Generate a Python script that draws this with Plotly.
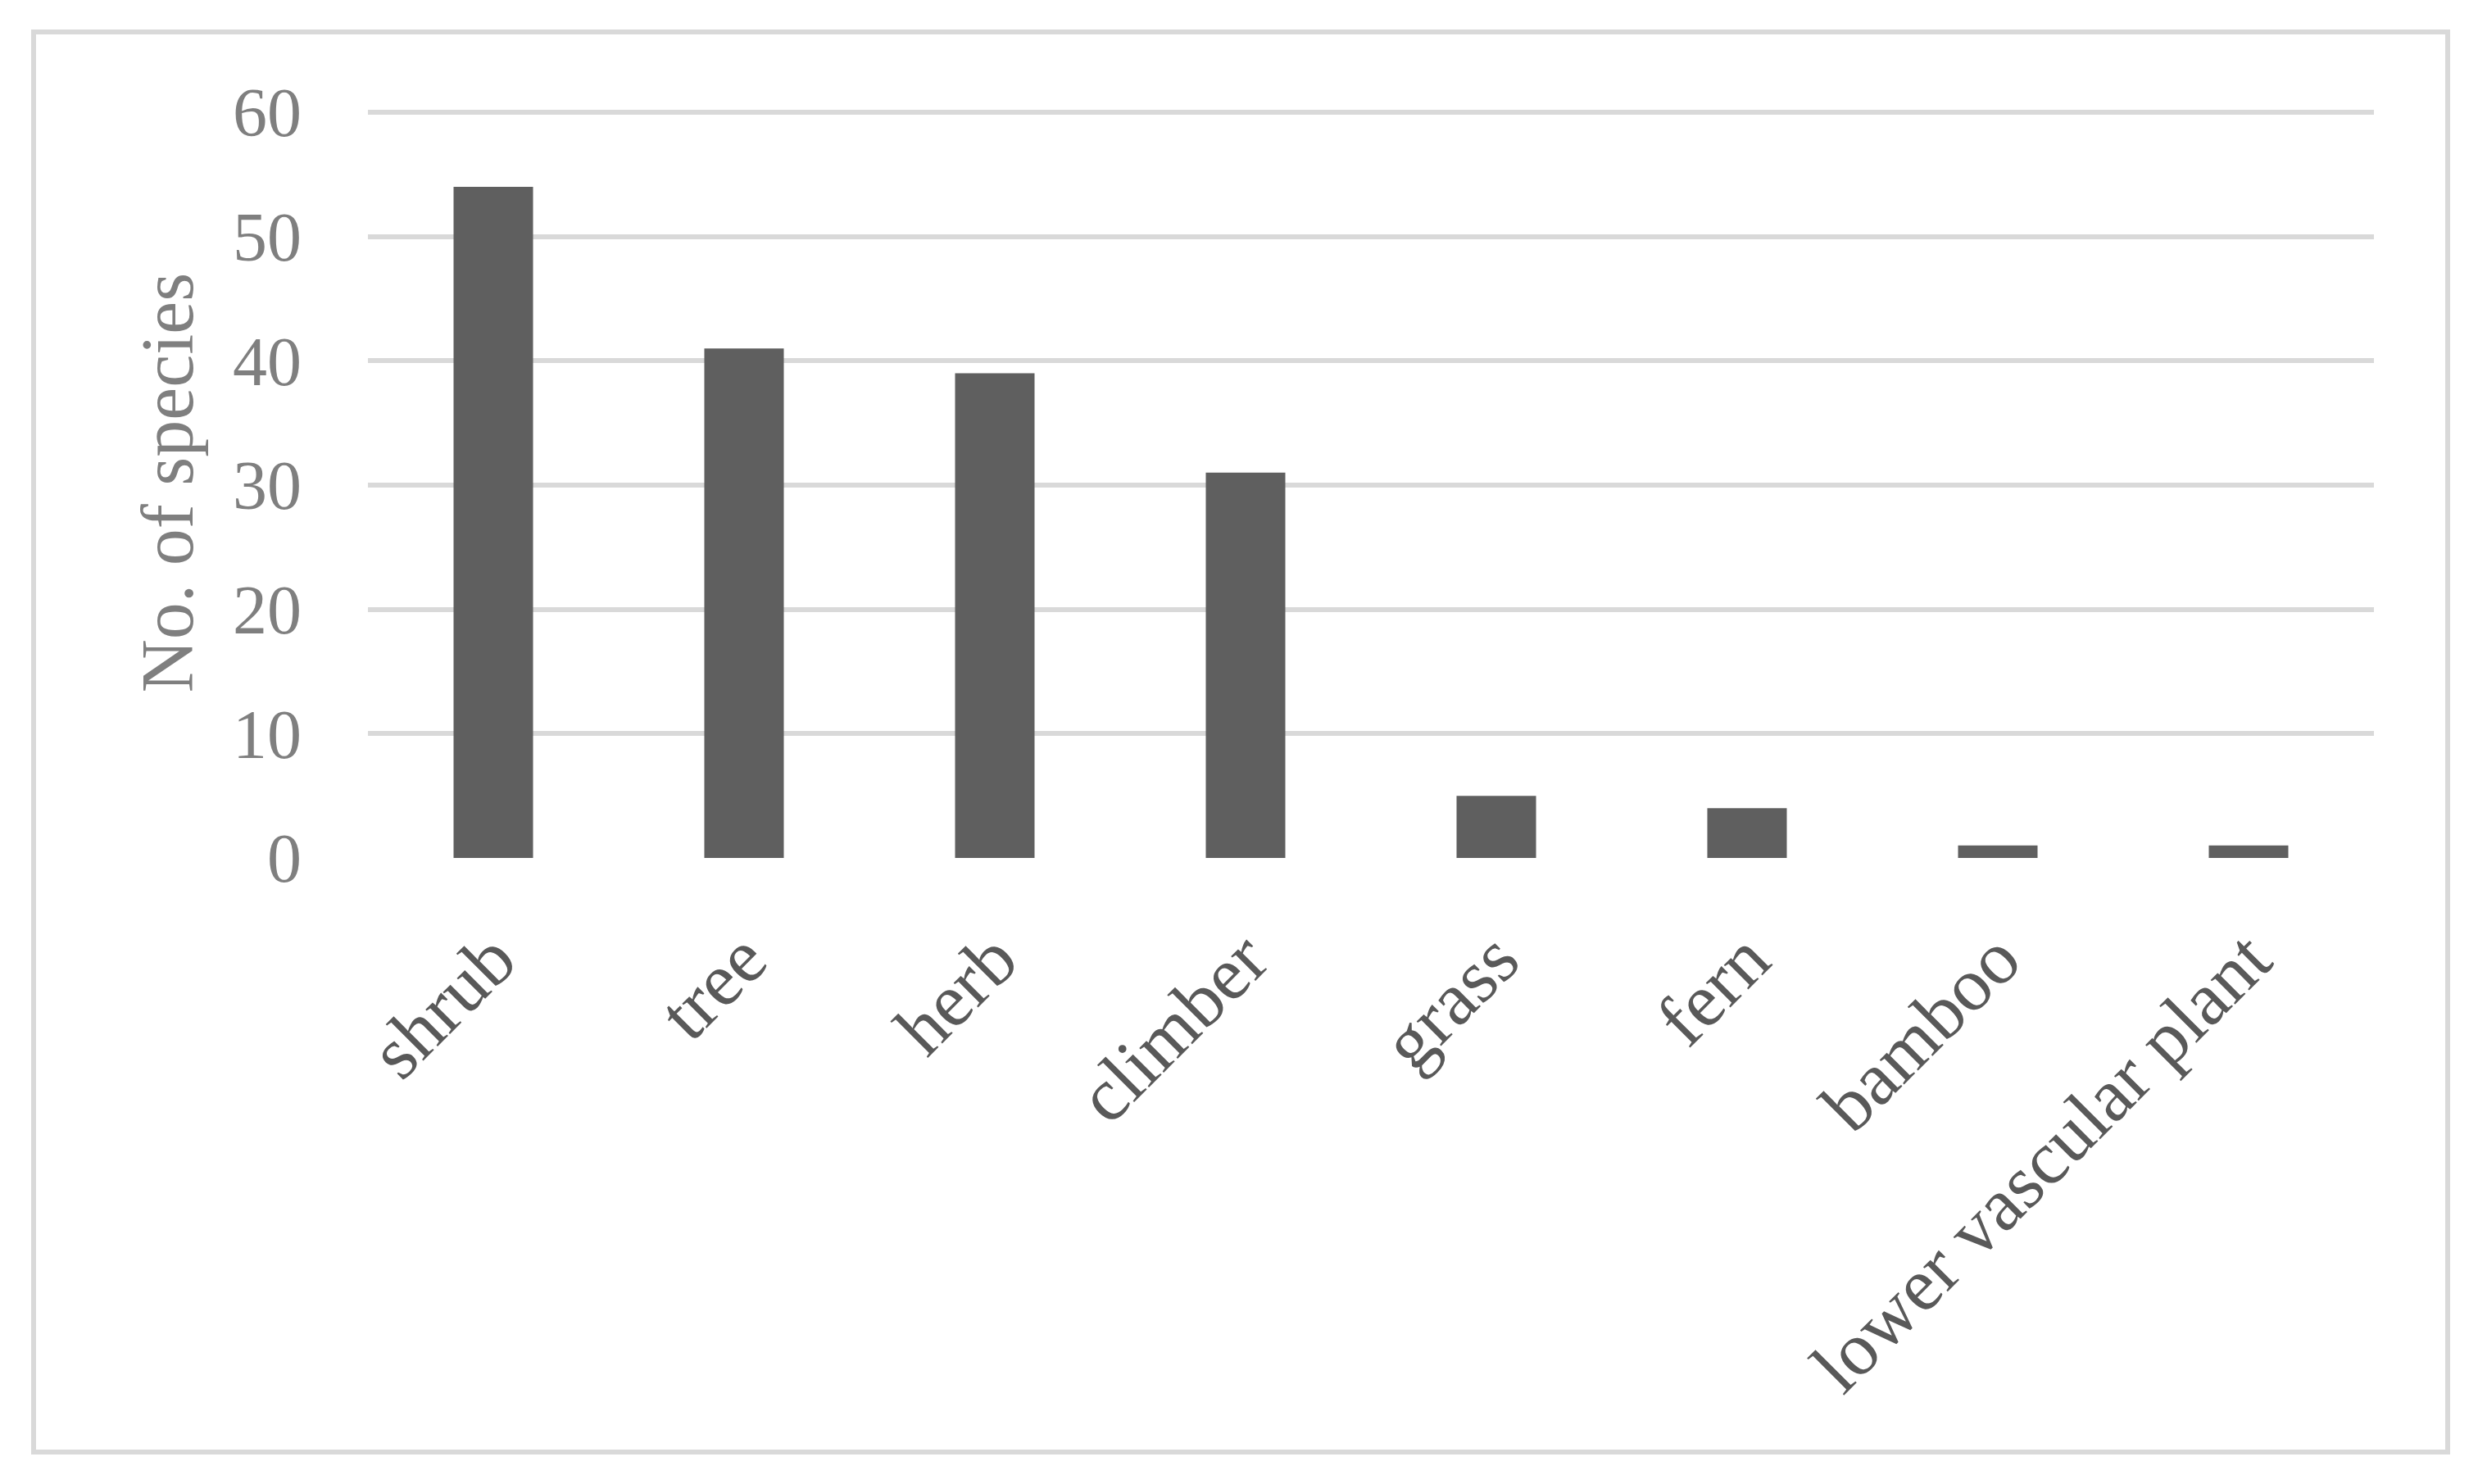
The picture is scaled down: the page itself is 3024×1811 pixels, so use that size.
import plotly.graph_objects as go

categories = ["shrub", "tree", "herb", "climber", "grass", "fern", "bamboo", "lower vascular plant"]
species_counts = [54, 41, 39, 31, 5, 4, 1, 1]
y_tick_values = [0, 10, 20, 30, 40, 50, 60]
y_tick_labels = ["0", "10", "20", "30", "40", "50", "60"]

W, H = 3024, 1811
OFF = 8  # page body offset
Y_MAX = 60
Y_TOP = 60.4  # small headroom so the top gridline is drawn

pl, pr = 449 - OFF, 2897 - OFF
y0_px, y60_px = 1047 - OFF, 137 - OFF
pb = y0_px
pt = y0_px - (y0_px - y60_px) * Y_TOP / Y_MAX
pw, ph = pr - pl, pb - pt

def px_x(x):
    return (x - OFF - pl) / pw

def px_y(y):
    return (pb - (y - OFF)) / ph

fig = go.Figure()
fig.add_trace(go.Bar(
    x=categories,
    y=species_counts,
    marker=dict(color="#5f5f5f", line=dict(width=0)),
    hoverinfo="skip",
))

fig.add_shape(
    type="rect", xref="paper", yref="paper",
    x0=px_x(41), x1=px_x(2987), y0=px_y(1772), y1=px_y(39),
    line=dict(color="#d9d9d9", width=6), fillcolor="rgba(0,0,0,0)", layer="below",
)

fig.update_layout(
    width=W, height=H,
    margin=dict(l=pl, r=W - pr, t=pt, b=H - pb, pad=0),
    paper_bgcolor="white", plot_bgcolor="white",
    bargap=0.683,
    showlegend=False,
    font=dict(family="Liberation Serif, DejaVu Serif, serif"),
)
fig.update_xaxes(
    type="category",
    tickangle=-45,
    tickfont=dict(size=92, color="#595959", family="Liberation Serif"),
    showgrid=False, showline=False, zeroline=False,
    ticks="", ticklabelstandoff=50,
)
fig.update_yaxes(
    range=[0, Y_TOP],
    tickvals=y_tick_values, ticktext=y_tick_labels,
    tickfont=dict(size=84, color="#7f7f7f", family="Liberation Serif"),
    showgrid=True, gridcolor="#d9d9d9", gridwidth=6,
    zeroline=False, showline=False, ticks="", ticklabelstandoff=80,
    title=dict(text="No. of species", font=dict(size=90, color="#7f7f7f", family="Liberation Serif"), standoff=18),
)

fig.write_html("out.html")
